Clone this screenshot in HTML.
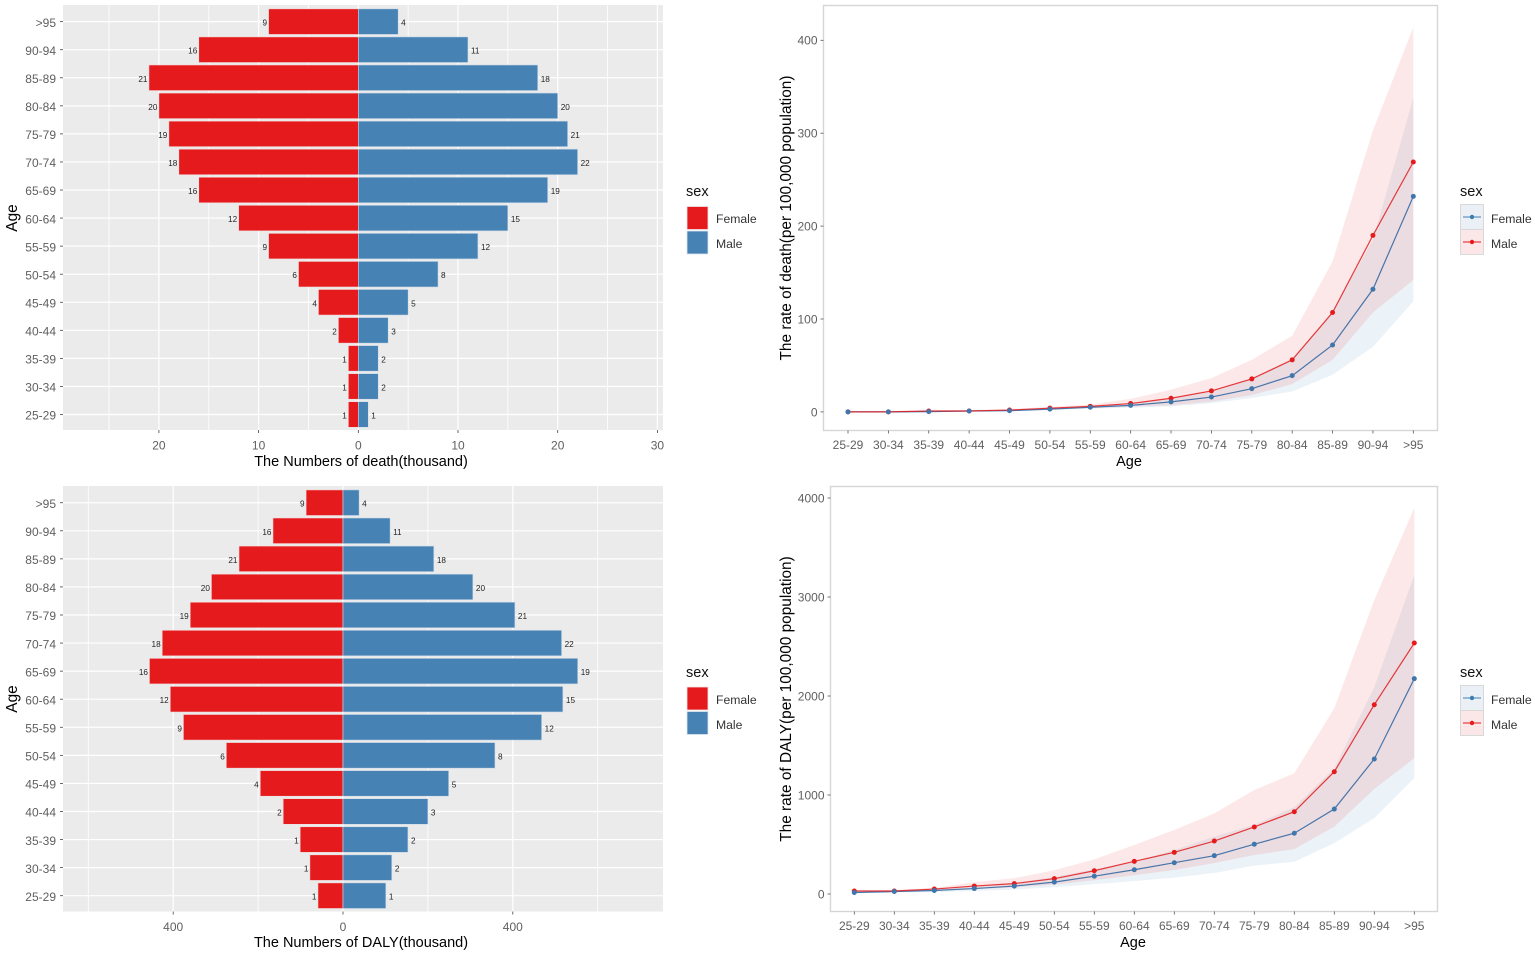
<!DOCTYPE html>
<html lang="en">
<head>
<meta charset="utf-8">
<title>Death and DALY by age and sex</title>
<style>
html,body{margin:0;padding:0;background:#fff;width:1535px;height:957px;overflow:hidden}
svg{display:block;font-family:"Liberation Sans",Arial,sans-serif;filter:blur(.35px)}
.title{font-size:14.5px;fill:#000}
.title-y{font-size:15.4px;fill:#000}
.ltitle{font-size:14.5px;fill:#111;-webkit-text-stroke:.2px #111}
.ltext{font-size:12.2px;fill:#333}
.tick{font-size:12px;fill:#5f5f5f}
.val{font-size:8.2px;fill:#222}
</style>
</head>
<body>
<svg id="chart" width="1535" height="957" viewBox="0 0 1535 957" xmlns="http://www.w3.org/2000/svg">
  <g id="pyramid-death">
    <rect x="63" y="5" width="600" height="425" fill="#ebebeb"/>
  </g>
  <g id="pyramid-daly">
    <rect x="63" y="486" width="600" height="425.5" fill="#ebebeb"/>
  </g>
  <g id="rate-death"></g>
  <g id="rate-daly"></g>

  <text class="title" x="361" y="466" text-anchor="middle">The Numbers of death(thousand)</text>
  <text class="title-y" transform="translate(17,218) rotate(-90)" text-anchor="middle">Age</text>
  <text class="title" x="361" y="947" text-anchor="middle">The Numbers of DALY(thousand)</text>
  <text class="title-y" transform="translate(17,699) rotate(-90)" text-anchor="middle">Age</text>
  <text class="title" x="1129" y="466" text-anchor="middle">Age</text>
  <text class="title-y" transform="translate(791,218) rotate(-90)" text-anchor="middle">The rate of death(per 100,000 population)</text>
  <text class="title" x="1133" y="947" text-anchor="middle">Age</text>
  <text class="title-y" transform="translate(791,699) rotate(-90)" text-anchor="middle">The rate of DALY(per 100,000 population)</text>

  <g>
    <text class="ltitle" x="686" y="196">sex</text>
    <rect x="687" y="206.5" width="21" height="23" fill="#e41a1c" stroke="#f0e4e4" stroke-width=".8"/>
    <rect x="687" y="231" width="21" height="23" fill="#4682b4" stroke="#dfe7ef" stroke-width=".8"/>
    <text class="ltext" x="716" y="223">Female</text>
    <text class="ltext" x="716" y="248">Male</text>
  </g>
  <g>
    <text class="ltitle" x="686" y="677">sex</text>
    <rect x="687" y="687" width="21" height="23" fill="#e41a1c" stroke="#f0e4e4" stroke-width=".8"/>
    <rect x="687" y="711.5" width="21" height="23" fill="#4682b4" stroke="#dfe7ef" stroke-width=".8"/>
    <text class="ltext" x="716" y="704">Female</text>
    <text class="ltext" x="716" y="729">Male</text>
  </g>
  <g>
    <text class="ltitle" x="1460" y="196">sex</text>
    <rect x="1460.5" y="204.5" width="23" height="25" fill="#ebf0f7" stroke="#d9d9d9"/>
    <rect x="1460.5" y="229.5" width="23" height="25" fill="#fbe7e8" stroke="#d9d9d9"/>
    <line x1="1463" x2="1481" y1="217" y2="217" stroke="#4682b4"/>
    <circle cx="1472" cy="217" r="2.2" fill="#377eb8"/>
    <line x1="1463" x2="1481" y1="242" y2="242" stroke="#e41a1c"/>
    <circle cx="1472" cy="242" r="2.2" fill="#e41a1c"/>
    <text class="ltext" x="1491" y="223">Female</text>
    <text class="ltext" x="1491" y="248">Male</text>
  </g>
  <g>
    <text class="ltitle" x="1460" y="677">sex</text>
    <rect x="1460.5" y="685.5" width="23" height="25" fill="#ebf0f7" stroke="#d9d9d9"/>
    <rect x="1460.5" y="710.5" width="23" height="25" fill="#fbe7e8" stroke="#d9d9d9"/>
    <line x1="1463" x2="1481" y1="698" y2="698" stroke="#4682b4"/>
    <circle cx="1472" cy="698" r="2.2" fill="#377eb8"/>
    <line x1="1463" x2="1481" y1="723" y2="723" stroke="#e41a1c"/>
    <circle cx="1472" cy="723" r="2.2" fill="#e41a1c"/>
    <text class="ltext" x="1491" y="704">Female</text>
    <text class="ltext" x="1491" y="729">Male</text>
  </g>
</svg>
<script>
// Categories (youngest first)
const ageGroups = ["25-29","30-34","35-39","40-44","45-49","50-54","55-59","60-64","65-69","70-74","75-79","80-84","85-89","90-94",">95"];

// Pyramid: numbers of death (thousand)
const deathFemale = [1,1,1,2,4,6,9,12,16,18,19,20,21,16,9];
const deathMale = [1,2,2,3,5,8,12,15,19,22,21,20,18,11,4];
// Pyramid: numbers of DALY (thousand)
const dalyFemale = [59,78,101,141,195,275,376,407,456,426,360,310,245,165,87];
const dalyMale = [101,115,153,200,249,358,468,518,553,515,405,306,214,111,38];
// Printed bar labels (both pyramids carry the same labels)
const printedFemale = ["1","1","1","2","4","6","9","12","16","18","19","20","21","16","9"];
const printedMale = ["1","2","2","3","5","8","12","15","19","22","21","20","18","11","4"];

// Pyramid axis ticks
const deathMajorTicks = [-20,-10,0,10,20,30];
const deathMinorGrid = [-25,-15,-5,5,15,25];
const dalyMajorTicks = [-400,0,400];
const dalyMinorGrid = [-600,-200,200,600];

// Death rate
const deathRateFemale = [0,0,0.3,1,1.3,3,5,7,10.8,16,25,39,72,132,232];
const deathRateFemaleLow = [0,0,0,0.5,1,2,3.5,4.5,6,9.5,15,22,40,70,119];
const deathRateFemaleHigh = [0,0,0.5,1,2,3.5,6,9.5,15,23,36,57,108,185,338];
const deathRateMale = [0,0,1,1,2,4,6,9,14.7,22.6,35.5,56,107,190,269];
const deathRateMaleLow = [0,0,0.5,1,1.5,3,4,5.5,7,11,18,30,56,107,142];
const deathRateMaleHigh = [0,0,1.5,2,3,5.5,8,14,24,36.4,56,82,162,303,414];
const deathRateTicks = [0,100,200,300,400];

// DALY rate
const dalyRateFemale = [15,25,35,55,80,120,180,245,316,387,503,614,858,1364,2175];
const dalyRateFemaleLow = [8,15,20,30,45,70,100,130,165,212,286,326,514,767,1170];
const dalyRateFemaleHigh = [20,30,50,80,115,170,250,330,444,580,700,878,1270,2090,3222];
const dalyRateMale = [30,30,50,80,105,155,235,330,421,535,677,831,1235,1912,2535];
const dalyRateMaleLow = [15,20,30,50,65,95,140,190,242,313,394,453,680,1060,1372];
const dalyRateMaleHigh = [35,40,60,120,160,240,350,495,647,815,1050,1220,1876,2970,3900];
const dalyRateTicks = [0,1000,2000,3000,4000];

const NS = "http://www.w3.org/2000/svg";
function mk(parent, tag, attrs, text) {
  const el = document.createElementNS(NS, tag);
  for (const k in attrs) el.setAttribute(k, attrs[k]);
  if (text !== undefined) el.textContent = text;
  parent.appendChild(el);
  return el;
}

function drawPyramid(root, female, male, major, minor, xs, yOf, top, bottom) {
  minor.forEach(function (v) {
    const g = mk(root, "line", {x1: xs(v), x2: xs(v), y1: top, y2: bottom, stroke: "#fff", "stroke-width": 0.8});
    
    
  });
  major.forEach(function (v) {
    const g = mk(root, "line", {x1: xs(v), x2: xs(v), y1: top, y2: bottom, stroke: "#fff", "stroke-width": 1.2});
    
    
    const t = mk(root, "line", {x1: xs(v), x2: xs(v), y1: bottom, y2: bottom + 3, stroke: "#444", "stroke-width": 0.8});
    
    
    const l = mk(root, "text", {x: xs(v), y: bottom + 19.5, "text-anchor": "middle", class: "tick"}, String(Math.abs(v)));
    
    
  });
  ageGroups.forEach(function (age, i) {
    const y = yOf(i);
    const g = mk(root, "line", {x1: 63, x2: 663, y1: y, y2: y, stroke: "#fff", "stroke-width": 1.2});
    
    
  });
  ageGroups.forEach(function (age, i) {
    const y = yOf(i);
    const h = 25.6;
    const xf = xs(-female[i]), xm = xs(male[i]), x0 = xs(0);
    const bf = mk(root, "rect", {x: xf, y: y - h / 2, width: x0 - xf, height: h, fill: "#e41a1c", stroke: "#f3dcdc", "stroke-width": 0.6});
    
    
    const bm = mk(root, "rect", {x: x0, y: y - h / 2, width: xm - x0, height: h, fill: "#4682b4", stroke: "#cfdbe8", "stroke-width": 0.6});
    
    
    const vf = mk(root, "text", {x: xf - 1.5, y: y + 4, "text-anchor": "end", class: "val"}, printedFemale[i]);
    
    
    const vm = mk(root, "text", {x: xm + 3, y: y + 4, class: "val"}, printedMale[i]);
    
    
    const t = mk(root, "line", {x1: 60, x2: 63, y1: y, y2: y, stroke: "#444", "stroke-width": 0.8});
    
    
    const l = mk(root, "text", {x: 56, y: y + 5.2, "text-anchor": "end", class: "tick"}, age);
    
    
  });
}

function ribbonPath(lo, hi, xs, ys) {
  let up = "", down = "";
  hi.forEach(function (v, i) { up += (i ? "L" : "M") + xs(i) + " " + ys(v); });
  for (let i = lo.length - 1; i >= 0; i--) down += "L" + xs(i) + " " + ys(lo[i]);
  return up + down + "Z";
}
function linePath(vals, xs, ys) {
  return vals.map(function (v, i) { return (i ? "L" : "M") + xs(i) + " " + ys(v); }).join("");
}

function drawRate(root, box, female, fLo, fHi, male, mLo, mHi, ticks, xs, ys) {
  const bg = mk(root, "rect", {x: box.l, y: box.t, width: box.r - box.l, height: box.b - box.t, fill: "#fff", stroke: "#d6d6d6", "stroke-width": 1.4});
  
  
  const rf = mk(root, "path", {d: ribbonPath(fLo, fHi, xs, ys), fill: "#377eb8", "fill-opacity": 0.1});
  
  
  const lf = mk(root, "path", {d: linePath(female, xs, ys), fill: "none", stroke: "#377eb8", "stroke-width": 1.2});
  
  
  const rm = mk(root, "path", {d: ribbonPath(mLo, mHi, xs, ys), fill: "#e41a1c", "fill-opacity": 0.1});
  
  
  const lm = mk(root, "path", {d: linePath(male, xs, ys), fill: "none", stroke: "#e41a1c", "stroke-width": 1.2, "stroke-opacity": 0.85});
  
  
  male.forEach(function (v, i) {
    const p = mk(root, "circle", {cx: xs(i), cy: ys(v), r: 2.5, fill: "#e41a1c"});
    
    
  });
  female.forEach(function (v, i) {
    const p = mk(root, "circle", {cx: xs(i), cy: ys(v), r: 2.5, fill: "#3f76ab"});
    
    
  });
  ageGroups.forEach(function (age, i) {
    const t = mk(root, "line", {x1: xs(i), x2: xs(i), y1: box.b, y2: box.b + 3, stroke: "#555", "stroke-width": 0.8});
    
    
    const l = mk(root, "text", {x: xs(i), y: box.b + 18.5, "text-anchor": "middle", class: "tick"}, age);
    
    
  });
  ticks.forEach(function (v) {
    const t = mk(root, "line", {x1: box.l - 3, x2: box.l, y1: ys(v), y2: ys(v), stroke: "#555", "stroke-width": 0.8});
    
    
    const l = mk(root, "text", {x: box.l - 6, y: ys(v) + 4.4, "text-anchor": "end", class: "tick"}, String(v));
    
    
  });
}

drawPyramid(document.getElementById("pyramid-death"), deathFemale, deathMale, deathMajorTicks, deathMinorGrid,
  function (v) { return 358.3 + v * 9.97; },
  function (i) { return 414.5 - i * 28.06; }, 5, 430);
drawPyramid(document.getElementById("pyramid-daly"), dalyFemale, dalyMale, dalyMajorTicks, dalyMinorGrid,
  function (v) { return 343 + v * 0.4245; },
  function (i) { return 895.7 - i * 28.07; }, 486, 911.5);
drawRate(document.getElementById("rate-death"), {l: 823.5, r: 1437.5, t: 5.5, b: 430.5},
  deathRateFemale, deathRateFemaleLow, deathRateFemaleHigh, deathRateMale, deathRateMaleLow, deathRateMaleHigh, deathRateTicks,
  function (i) { return 848 + i * 40.38; },
  function (v) { return 411.9 - v * 0.929; });
drawRate(document.getElementById("rate-daly"), {l: 830.5, r: 1437.5, t: 486.5, b: 911.5},
  dalyRateFemale, dalyRateFemaleLow, dalyRateFemaleHigh, dalyRateMale, dalyRateMaleLow, dalyRateMaleHigh, dalyRateTicks,
  function (i) { return 854.3 + i * 40; },
  function (v) { return 894 - v * 0.099; });
</script>
</body>
</html>
